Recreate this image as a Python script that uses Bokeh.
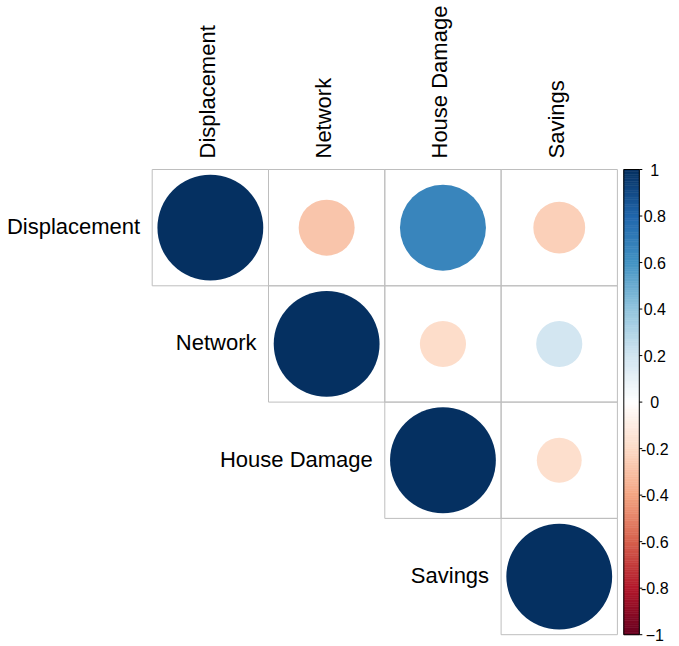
import numpy as np
from bokeh.plotting import figure
from bokeh.models import Range1d, ColumnDataSource
from bokeh.core.properties import value
from bokeh.embed import file_html
from bokeh.resources import INLINE

# ---------------- data ----------------
variables = ["Displacement", "Network", "House Damage", "Savings"]
pair_row = ["Displacement", "Displacement", "Displacement", "Displacement",
            "Network", "Network", "Network",
            "House Damage", "House Damage",
            "Savings"]
pair_col = ["Displacement", "Network", "House Damage", "Savings",
            "Network", "House Damage", "Savings",
            "House Damage", "Savings",
            "Savings"]
pair_r = [1.0, -0.28, 0.66, -0.24,
          1.0, -0.19, 0.19,
          1.0, -0.18,
          1.0]
cbar_ticks = [1.0, 0.8, 0.6, 0.4, 0.2, 0.0, -0.2, -0.4, -0.6, -0.8, -1.0]
cbar_labels = ["1", "0.8", "0.6", "0.4", "0.2", "0", "-0.2", "-0.4", "-0.6", "-0.8", "\u22121"]

# RdBu ramp (corrplot COL2('RdBu'))
ramp = ["#67001F", "#B2182B", "#D6604D", "#F4A582", "#FDDBC7", "#FFFFFF",
        "#D1E5F0", "#92C5DE", "#4393C3", "#2166AC", "#053061"]


def hex2rgb(h):
    return np.array([int(h[i:i + 2], 16) for i in (1, 3, 5)], dtype=float)


ramp_rgb = [hex2rgb(c) for c in ramp]


def color_for(v):
    t = (v + 1) / 2 * (len(ramp) - 1)
    i = int(min(max(np.floor(t), 0), len(ramp) - 2))
    f = t - i
    c = ramp_rgb[i] * (1 - f) + ramp_rgb[i + 1] * f
    return "#%02X%02X%02X" % tuple(int(round(x)) for x in c)


# ---------------- layout ----------------
W, H = 671, 646
PX = 116.3           # pixels per cell
grid_left = 151.7    # canvas px
grid_top = 169.0     # canvas px
x0 = 0.5 - grid_left / PX
x1 = x0 + W / PX
y_top = 0.5 - grid_top / PX
y_bot = y_top + H / PX

p = figure(width=W, height=H, output_backend="svg", toolbar_location=None,
           x_range=Range1d(x0, x1), y_range=Range1d(y_bot, y_top),
           min_border=0, min_border_left=0, min_border_right=0,
           min_border_top=0, min_border_bottom=0)
p.axis.visible = False
p.xgrid.visible = False
p.ygrid.visible = False
p.outline_line_color = None
p.background_fill_color = "white"
p.border_fill_color = "white"

# colorbar range: value 1 at grid top (y=0.5), -1 at grid bottom (y=4.5)
p.extra_y_ranges = {"cb": Range1d((2.5 - y_bot) / 2, (2.5 - y_top) / 2)}

idx = {v: i + 1 for i, v in enumerate(variables)}
cx = [idx[c] for c in pair_col]
cy = [idx[r] for r in pair_row]

src = ColumnDataSource(dict(
    x=cx, y=cy,
    rad=[0.455 * np.sqrt(abs(r)) for r in pair_r],
    color=[color_for(r) for r in pair_r],
))

p.rect("x", "y", width=1, height=1, source=src, fill_color=None,
       line_color="#BEBEBE", line_width=1)
p.circle("x", "y", radius="rad", source=src, fill_color="color",
         line_color=None)

font = value("Liberation Sans")

# column labels (top, rotated)
p.text(x=[idx[v] for v in variables], y=[0.5] * 4, text=variables,
       angle=np.pi / 2, text_align="left", text_baseline="middle",
       x_offset=-3, y_offset=-11, text_font=font, text_font_size="22px",
       text_color="black")

# row labels (left of the diagonal)
p.text(x=[idx[v] - 0.5 for v in variables], y=[idx[v] for v in variables],
       text=variables, text_align="right", text_baseline="middle",
       x_offset=-12, y_offset=-1, text_font=font, text_font_size="22px",
       text_color="black")

# colour bar
cb_left = 4.5 + 6.4 / PX
cb_right = cb_left + 15.5 / PX
edges = np.linspace(-1, 1, 201)
mids = (edges[:-1] + edges[1:]) / 2
cols = [color_for(m) for m in mids]
p.quad(left=cb_left, right=cb_right, bottom=edges[:-1], top=edges[1:],
       fill_color=cols, line_color=cols, line_width=0.6, y_range_name="cb")
p.quad(left=[cb_left], right=[cb_right], bottom=[-1], top=[1],
       fill_color=None, line_color="black", line_width=1, y_range_name="cb")
p.segment(x0=[cb_right] * len(cbar_ticks), x1=[cb_right + 3 / PX] * len(cbar_ticks),
          y0=cbar_ticks, y1=cbar_ticks, line_color="black", line_width=1,
          y_range_name="cb")
p.text(x=[cb_right + 15.5 / PX] * len(cbar_ticks), y=cbar_ticks, text=cbar_labels,
       text_align="center", text_baseline="middle", text_font=font,
       text_font_size="16px", text_color="black", y_range_name="cb")

open("out.html", "w").write(file_html(p, INLINE))
